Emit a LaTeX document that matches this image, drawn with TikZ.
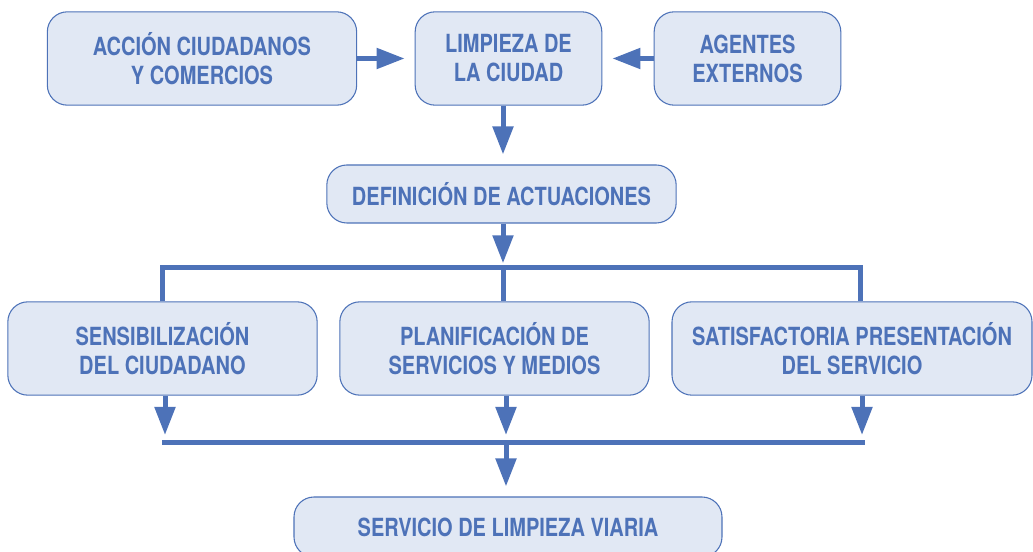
\documentclass[tikz,border=0pt]{standalone}
\usepackage{fontspec}
\setmainfont{TeX Gyre Heros}[FakeStretch=0.8]
\usetikzlibrary{arrows.meta}
\definecolor{azul}{RGB}{77,114,184}
\definecolor{celeste}{RGB}{225,232,244}
\begin{document}
\begin{tikzpicture}[x=0.75pt, y=-0.75pt]
    \tikzstyle{every node}=[font=\fontsize{18.75}{21.75}\selectfont\bfseries, align=center, text=azul]
    \tikzset{
        n/.style={draw=azul, fill=celeste, line width=0.8pt, rounded corners=15pt, minimum height=70pt, minimum width=232pt},
        n2/.style={n, minimum width=140pt},
        flecha/.style={draw=azul, line width=3.75pt, -{Triangle[length=21pt, width=15pt]}, shorten >=7.5pt},
        barra/.style={draw=azul, line width=3.75pt}
        }
    \useasboundingbox (0,0) rectangle (1033,552);

    %top row
    \node (accion) [n] at (202,58.5) {ACCIÓN CIUDADANOS\\Y COMERCIOS};
    \node (limpieza) [n2] at (508.5,58.5) {LIMPIEZA DE\\LA CIUDAD};
    \node (agentes) [n2] at (747.5,58.5) {AGENTES\\EXTERNOS};

    %actuaciones
    \node (definicion) [n, minimum width=262pt, minimum height=43.5pt] at (501.5,194) {DEFINICIÓN DE ACTUACIONES};

    %middle row
    \node (sensib) [n] at (162.5,348.5) {SENSIBILIZACIÓN\\DEL CIUDADANO};
    \node (planif) [n] at (494.5,348.5) {PLANIFICACIÓN DE\\SERVICIOS Y MEDIOS};
    \node (satisf) [n, minimum width=270pt] at (852,348.5) {SATISFACTORIA PRESENTACIÓN\\DEL SERVICIO};

    %result
    \node (servicio) [n, minimum width=321pt, minimum height=45pt] at (508,527) {SERVICIO DE LIMPIEZA VIARIA};

    \coordinate (split) at (503,268);
    \coordinate (splitr) at (860,268);
    \coordinate (join) at (506,443);
    \coordinate (joinl) at (165,443);
    \coordinate (joinr) at (862,443);

    \draw[flecha] (accion.east) -- (limpieza.west);
    \draw[flecha] (agentes.west) -- (limpieza.east);
    \draw[flecha] (limpieza.south -| split) -- (definicion.north -| split);
    \draw[flecha, shorten >=3.5pt] (definicion.south -| split) -- (split);

    \draw[barra] (sensib.north) |- (splitr) -- (satisf.north -| splitr);
    \draw[barra] (split) -- (planif.north -| split);

    \draw[flecha, shorten >=6pt] (sensib.south -| joinl) -- (joinl);
    \draw[flecha, shorten >=6pt] (planif.south -| join) -- (join);
    \draw[flecha, shorten >=6pt] (satisf.south -| joinr) -- (joinr);
    \draw[barra] ([xshift=-2pt]joinl) -- ([xshift=2pt]joinr);

    \draw[flecha] (join) -- (servicio.north -| join);
\end{tikzpicture}
\end{document}
